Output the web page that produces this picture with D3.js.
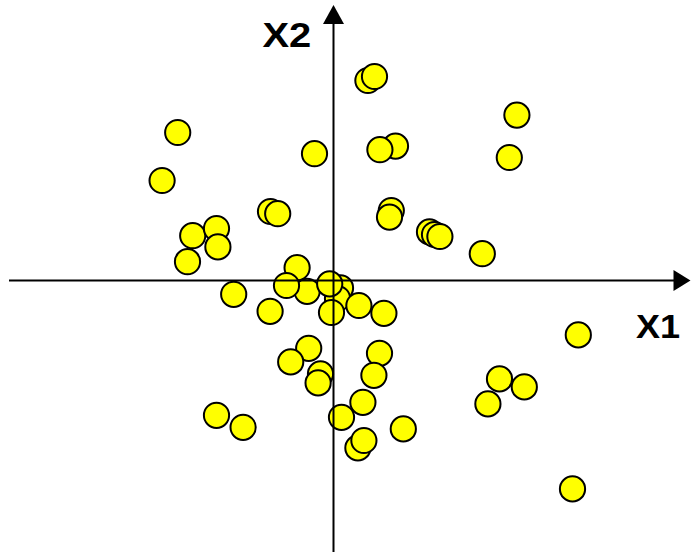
<!DOCTYPE html>
<html>
<head>
<meta charset="utf-8">
<script src="https://cdn.jsdelivr.net/npm/d3@7"></script>
<style>
  html, body { margin: 0; padding: 0; background: #fff; }
  svg { display: block; }
  .axis-label { font-family: "Liberation Sans", Arial, Helvetica, sans-serif; font-weight: bold; fill: #000; }
</style>
</head>
<body>
<svg id="chart" width="691" height="552"></svg>
<script>
// Observations in the (X1, X2) plane; drawn in list order, later points on top.
const x1Values = [
  -7.79, -8.57, -0.95, -3.15, -2.79, -7.04, -5.85, -5.78, -7.30,
   1.72,  2.05,  3.10,  2.32,  2.89,  2.80,  9.17,  8.79,
   4.80,  5.05,  5.32,  7.44,
  -1.82, -1.32, -2.35, -4.99, 0.35, 0.20, -0.19, -0.10, 1.27, 2.52, -3.17,
  -1.24, -2.14,  2.30,  2.02, -0.65, -0.77,  1.47,  0.40,
  -5.85, -4.52,  3.49,  1.22,  1.52,
  12.24,  9.54,  8.30,  7.72, 11.95
];
const x2Values = [
   7.40,  5.00,  6.34,  3.45,  3.34,  2.24,  2.60,  1.68,  0.94,
  10.00, 10.20,  6.72,  6.54,  3.50,  3.17,  8.27,  6.15,
   2.43,  2.30,  2.20,  1.34,
   0.64, -0.54, -0.25, -0.69, -0.37, -0.90, -0.17, -1.60, -1.25, -1.64, -1.54,
  -3.39, -4.07, -3.64, -4.74, -4.67, -5.12, -6.09, -6.84,
  -6.74, -7.34, -7.42, -8.37, -8.00,
  -2.72, -5.32, -4.92, -6.17, -10.42
];
const axisNames = ["X1", "X2"];

const points = x1Values.map((v, i) => ({ x1: v, x2: x2Values[i] }));

const svg = d3.select("#chart");

// Origin sits where both axes cross; 20 px per unit in each direction.
const x = d3.scaleLinear().domain([-16.225, 17.85]).range([9, 690.5]);
const y = d3.scaleLinear().domain([-13.575, 13.775]).range([552, 5]);

const r = 12.6;

svg.append("g")
  .selectAll("circle")
  .data(points)
  .join("circle")
  .attr("cx", d => x(d.x1))
  .attr("cy", d => y(d.x2))
  .attr("r", r)
  .attr("fill", "#ffff00")
  .attr("stroke", "#000")
  .attr("stroke-width", 2);

// Axes with arrowheads, drawn over the points
const ox = x(0), oy = y(0);
const [xMin, xMax] = x.range();
const [yBottom, yTop] = y.range();
const headLen = 17, headHalf = 10.5;

const axes = svg.append("g");
axes.append("line")
  .attr("x1", xMin).attr("y1", oy)
  .attr("x2", xMax - headLen + 1).attr("y2", oy)
  .attr("stroke", "#000").attr("stroke-width", 2);
axes.append("path")
  .attr("d", `M${xMax},${oy} L${xMax - headLen},${oy - headHalf} L${xMax - headLen},${oy + headHalf} Z`)
  .attr("fill", "#000");

axes.append("line")
  .attr("x1", ox).attr("y1", yBottom)
  .attr("x2", ox).attr("y2", yTop + headLen + 1)
  .attr("stroke", "#000").attr("stroke-width", 2);
axes.append("path")
  .attr("d", `M${ox},${yTop} L${ox - headHalf},${yTop + 19} L${ox + headHalf},${yTop + 19} Z`)
  .attr("fill", "#000");

// Axis names (slightly wide bold lettering)
svg.append("text")
  .attr("class", "axis-label")
  .attr("transform", "translate(636,338) scale(1.11,1)")
  .attr("font-size", 32.5)
  .text(axisNames[0]);

svg.append("text")
  .attr("class", "axis-label")
  .attr("transform", "translate(262.5,47) scale(1.14,1)")
  .attr("font-size", 35)
  .text(axisNames[1]);
</script>
</body>
</html>
